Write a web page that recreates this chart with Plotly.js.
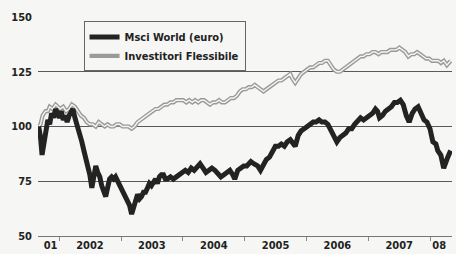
<!DOCTYPE html>
<html>
<head>
<meta charset="utf-8">
<script src="https://cdn.plot.ly/plotly-3.0.1.min.js"></script>
<style>
html,body{margin:0;padding:0;background:#f6f6f4;}
#chart{width:456px;height:254px;}
</style>
</head>
<body>
<div id="chart"></div>
<script>
// Msci World (euro)
const msciDates = ['2001-09-01','2001-09-12','2001-09-21','2001-10-01','2001-10-12','2001-10-25','2001-11-05','2001-11-16','2001-11-28','2001-12-10',
'2002-01-01','2002-01-12','2002-01-24','2002-02-04','2002-02-16','2002-02-28','2002-03-10','2002-03-22','2002-04-03','2002-04-15',
'2002-05-02','2002-05-14','2002-05-26','2002-06-06','2002-06-18','2002-06-30','2002-07-12','2002-07-23','2002-08-04','2002-08-16',
'2002-08-28','2002-09-08','2002-09-20','2002-10-02','2002-10-13','2002-10-25','2002-11-06','2002-11-18','2002-11-29','2002-12-11',
'2002-12-23','2003-01-04','2003-01-16','2003-01-28','2003-02-08','2003-02-20','2003-03-04','2003-03-15','2003-03-27','2003-04-08',
'2003-04-20','2003-05-01','2003-05-13','2003-05-25','2003-06-06','2003-06-17','2003-06-29','2003-07-11','2003-07-23','2003-08-03',
'2003-08-15','2003-08-27','2003-09-08','2003-09-19','2003-10-01','2003-10-19','2003-11-05','2003-11-23','2003-12-10','2003-12-28',
'2004-01-15','2004-02-01','2004-02-19','2004-03-07','2004-03-25','2004-04-11','2004-04-29','2004-05-16','2004-06-03','2004-06-20',
'2004-07-08','2004-07-26','2004-08-12','2004-08-30','2004-09-16','2004-10-04','2004-10-21','2004-11-02','2004-11-20','2004-12-07',
'2004-12-25','2005-01-12','2005-02-05','2005-02-22','2005-03-17','2005-04-03','2005-04-21','2005-05-08','2005-05-26','2005-06-12',
'2005-06-30','2005-07-18','2005-08-04','2005-08-22','2005-09-08','2005-09-26','2005-10-13','2005-10-25','2005-11-12','2005-11-29',
'2005-12-17','2006-01-03','2006-01-21','2006-02-08','2006-02-25','2006-03-15','2006-04-01','2006-04-19','2006-05-06','2006-05-24',
'2006-06-10','2006-06-28','2006-07-16','2006-08-02','2006-08-20','2006-09-06','2006-09-24','2006-10-11','2006-10-29','2006-11-15',
'2006-12-03','2006-12-20','2007-01-07','2007-01-25','2007-02-11','2007-02-23','2007-03-07','2007-03-24','2007-04-11','2007-04-28',
'2007-05-16','2007-06-03','2007-06-20','2007-07-08','2007-07-25','2007-08-12','2007-08-29','2007-09-16','2007-10-03','2007-10-21',
'2007-11-07','2007-11-25','2007-12-12','2007-12-30','2008-01-16','2008-02-03','2008-02-14','2008-03-03','2008-03-20','2008-04-01',
'2008-04-13','2008-04-30'];
const msciValues = [100,95,87,94,97,103,101,106,104,108,
104,107,103,105,102,105,107,108,104,101,
97,93,89,86,83,78,72,76,82,79,
77,73,71,68,72,76,77,76,77,75,
73,71,69,68,66,64,60,63,67,69,
67,68,70,70,72,74,73,75,76,74,
77,78,78,76,76,77,76,77,78,79,
80,79,81,80,82,83,81,79,80,81,
80,78,77,78,79,80,78,76,80,81,
82,82,84,83,82,80,83,85,86,89,
91,91,92,91,93,94,92,91,96,98,
99,100,101,102,102,103,102,102,101,98,
95,93,95,96,97,99,99,101,103,104,
103,104,105,106,108,107,104,105,107,108,
109,111,111,112,110,105,102,106,108,109,
106,103,102,99,93,92,89,87,81,84,
86,89];

// Investitori Flessibile
const flexDates = ['2001-09-01','2001-09-12','2001-09-24','2001-10-12','2001-10-25','2001-11-05','2001-11-22','2001-12-10','2002-01-06','2002-01-24',
'2002-02-10','2002-02-28','2002-03-16','2002-04-03','2002-04-21','2002-05-08','2002-05-26','2002-06-12','2002-06-30','2002-07-17',
'2002-08-04','2002-08-22','2002-09-08','2002-09-26','2002-10-13','2002-10-31','2002-11-18','2002-12-05','2002-12-23','2003-01-10',
'2003-01-28','2003-02-14','2003-03-04','2003-03-21','2003-04-08','2003-04-26','2003-05-13','2003-05-31','2003-06-17','2003-07-05',
'2003-07-23','2003-08-09','2003-08-27','2003-09-13','2003-10-01','2003-10-19','2003-11-05','2003-11-23','2003-12-10','2004-01-03',
'2004-01-21','2004-02-07','2004-02-25','2004-03-13','2004-03-31','2004-04-17','2004-05-05','2004-05-22','2004-06-09','2004-06-26',
'2004-07-14','2004-08-01','2004-08-18','2004-09-05','2004-09-23','2004-10-10','2004-10-28','2004-11-14','2004-12-02','2004-12-19',
'2005-01-06','2005-01-24','2005-02-11','2005-02-28','2005-03-17','2005-04-03','2005-04-21','2005-05-08','2005-05-26','2005-06-12',
'2005-06-30','2005-07-18','2005-08-04','2005-08-22','2005-09-08','2005-09-26','2005-10-07','2005-10-25','2005-11-12','2005-11-29',
'2005-12-17','2006-01-03','2006-01-21','2006-02-08','2006-02-25','2006-03-15','2006-04-01','2006-04-19','2006-05-06','2006-05-24',
'2006-06-10','2006-06-28','2006-07-16','2006-08-02','2006-08-20','2006-09-06','2006-09-24','2006-10-11','2006-10-29','2006-11-15',
'2006-12-03','2006-12-20','2007-01-07','2007-01-25','2007-02-11','2007-03-01','2007-03-18','2007-04-05','2007-04-23','2007-05-10',
'2007-05-28','2007-06-14','2007-07-02','2007-07-20','2007-08-06','2007-08-24','2007-09-10','2007-09-28','2007-10-15','2007-11-02',
'2007-11-20','2007-12-07','2007-12-25','2008-01-11','2008-01-29','2008-02-16','2008-03-04','2008-03-21','2008-04-08','2008-04-20',
'2008-04-30'];
const flexValues = [100,101,105,107,107,109,108,110,108,109,
107,108,110,109,107,105,104,102,101,101,
100,102,101,100,101,100,100,101,101,100,
100,100,99,100,102,103,104,105,106,107,
108,108,109,110,110,111,111,112,112,112,
111,112,111,112,111,112,112,111,110,111,
111,112,111,111,112,113,113,114,116,117,
117,118,118,119,118,117,116,117,118,119,
120,121,121,122,123,124,122,120,122,124,
125,126,127,127,128,129,129,130,130,128,
126,125,125,126,127,128,129,130,131,132,
132,133,133,134,134,133,134,134,134,135,
135,135,136,135,134,132,133,133,134,133,
132,131,131,130,130,130,129,130,128,129,
130];

const seriesNames = ['Msci World (euro)', 'Investitori Flessibile'];
const yTicks = [50, 75, 100, 125, 150];
const yearTicks = ['2002-01-01','2003-01-01','2004-01-01','2005-01-01','2006-01-01','2007-01-01','2008-01-01'];
const yearLabelPos = ['2001-11-10','2002-07-01','2003-07-01','2004-07-01','2005-07-01','2006-07-01','2007-07-01','2008-02-22'];
const yearLabels = ['01','2002','2003','2004','2005','2006','2007','08'];

const xRange = ['2001-08-28','2008-05-08'];
const FONT = '"DejaVu Sans Condensed", "Liberation Sans Narrow", Arial, sans-serif';

const traces = [
  {x: flexDates, y: flexValues, type:'scatter', mode:'lines', name: seriesNames[1],
   line:{color:'#9a9a9a', width:4.2}, showlegend:true, legendrank:2},
  {x: flexDates, y: flexValues, type:'scatter', mode:'lines', name: seriesNames[1] + ' ',
   line:{color:'#f4f4f2', width:1.4}, showlegend:false, hoverinfo:'skip'},
  {x: msciDates, y: msciValues, type:'scatter', mode:'lines', name: seriesNames[0],
   line:{color:'#232323', width:5}, showlegend:true, legendrank:1},
  {x: yearLabelPos, y: yearLabelPos.map(() => null), xaxis:'x2', type:'scatter', mode:'lines',
   showlegend:false, hoverinfo:'skip'}
];

const layout = {
  width:456, height:254,
  margin:{l:38, r:4, t:17, b:18},
  paper_bgcolor:'#f6f6f4', plot_bgcolor:'rgba(0,0,0,0)',
  font:{family:FONT, size:11, color:'#222', weight:'bold'},
  showlegend:true,
  legend:{x:0.11, y:0.98, xanchor:'left', yanchor:'top',
    bgcolor:'rgba(0,0,0,0)', bordercolor:'#666', borderwidth:1,
    font:{family:FONT, size:11, color:'#222', weight:'bold'},
    itemwidth:30, tracegroupgap:0, traceorder:'normal'},
  xaxis:{type:'date', range:xRange, showgrid:false, zeroline:false,
    tickmode:'array', tickvals:yearTicks, ticktext:yearTicks.map(()=>''),
    ticks:'outside', ticklen:4, tickcolor:'#888', tickwidth:1,
    showline:true, linecolor:'#777', linewidth:1, fixedrange:true},
  xaxis2:{type:'date', range:xRange, overlaying:'x', side:'bottom', showgrid:false, zeroline:false,
    tickmode:'array', tickvals:yearLabelPos, ticktext:yearLabels, ticks:'', showline:false,
    tickfont:{family:FONT, size:11, color:'#222', weight:'bold'}, ticklabelstandoff:1, fixedrange:true},
  yaxis:{range:[50,150], tickmode:'array', tickvals:yTicks, ticktext:yTicks.map(String),
    showgrid:true, gridcolor:'#5a5a5a', gridwidth:1, zeroline:false, showline:false,
    ticks:'', ticklabelstandoff:5,
    tickfont:{family:FONT, size:11, color:'#222', weight:'bold'}, fixedrange:true}
};

Plotly.newPlot('chart', traces, layout, {displayModeBar:false, staticPlot:true});
</script>
</body>
</html>
